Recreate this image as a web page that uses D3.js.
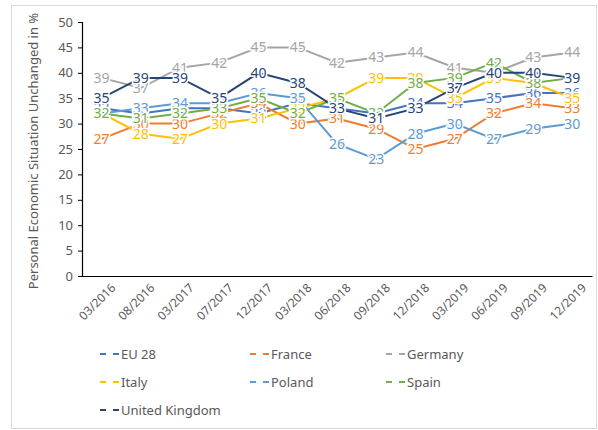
<!DOCTYPE html>
<html>
<head>
<meta charset="utf-8">
<script src="https://cdn.jsdelivr.net/npm/d3@7"></script>
<style>
  body { margin: 0; background: #fff; }
  svg text { font-family: "Noto Sans", "Open Sans", sans-serif; }
</style>
</head>
<body>
<div class="chart"></div>
<script>
// categories + series
var periods = ["03/2016","08/2016","03/2017","07/2017","12/2017","03/2018","06/2018","09/2018","12/2018","03/2019","06/2019","09/2019","12/2019"];
var yTicks = [0, 5, 10, 15, 20, 25, 30, 35, 40, 45, 50];
var seriesNames = ["EU 28", "France", "Germany", "Italy", "Poland", "Spain", "United Kingdom"];
var eu28    = [33, 32, 33, 33, 32, 34, 33, 32, 34, 34, 35, 36, 36];
var france  = [27, 30, 30, 32, 34, 30, 31, 29, 25, 27, 32, 34, 33];
var germany = [39, 37, 41, 42, 45, 45, 42, 43, 44, 41, 40, 43, 44];
var italy   = [32, 28, 27, 30, 31, 33, 35, 39, 39, 35, 39, 38, 35];
var poland  = [32, 33, 34, 34, 36, 35, 26, 23, 28, 30, 27, 29, 30];
var spain   = [32, 31, 32, 33, 35, 32, 35, 32, 38, 39, 42, 38, 39];
var uk      = [35, 39, 39, 35, 40, 38, 33, 31, 33, 37, 40, 40, 39];

var colors = ["#4472c4", "#ed7d31", "#a5a5a5", "#ffc000", "#5b9bd5", "#70ad47", "#264478"];
var allValues = [eu28, france, germany, italy, poland, spain, uk];

var series = seriesNames.map(function(n, i){
  return { name: n, color: colors[i], values: allValues[i] };
});

var width = 598, height = 430;
var margin = { left: 82, right: 6, top: 22, bottom: 154 };

var svg = d3.select(".chart").append("svg")
  .attr("width", width)
  .attr("height", height);

// outer frame
svg.append("rect")
  .attr("x", 11.5).attr("y", 5.5)
  .attr("width", 585).attr("height", 423)
  .attr("fill", "none")
  .attr("stroke", "#d9d9d9");

var x = d3.scaleBand()
  .domain(periods)
  .range([margin.left, width - margin.right]);

var y = d3.scaleLinear()
  .domain([0, 50])
  .range([height - margin.bottom, margin.top]);

// y axis
var yAxis = svg.append("g")
  .attr("transform", "translate(" + margin.left + ",0)")
  .call(d3.axisLeft(y).tickValues(yTicks).tickSize(4).tickPadding(5));
yAxis.select(".domain").attr("stroke", "#000").attr("stroke-width", 1.2);
yAxis.selectAll(".tick line").attr("stroke", "#000");
yAxis.selectAll("text").attr("font-size", 13).attr("fill", "#595959")
  .style("font-family", "'Noto Sans', sans-serif");

// x axis
var xAxis = svg.append("g")
  .attr("transform", "translate(0," + y(0) + ")")
  .call(d3.axisBottom(x).tickSize(0).tickPadding(8));
xAxis.select(".domain").attr("stroke", "#000").attr("stroke-width", 1.2);
xAxis.selectAll("text")
  .attr("font-size", 12).attr("fill", "#595959")
  .style("font-family", "'Noto Sans', sans-serif")
  .attr("text-anchor", "end")
  .attr("dy", "0.35em")
  .attr("transform", "translate(6,4) rotate(-45)");

// y title
svg.append("text")
  .attr("transform", "translate(38," + (y(25) + 2) + ") rotate(-90)")
  .attr("text-anchor", "middle")
  .attr("font-size", 13)
  .attr("fill", "#595959")
  .text("Personal Economic Situation Unchanged in %");

var line = d3.line()
  .x(function(d, i){ return x(periods[i]) + x.bandwidth() / 2; })
  .y(function(d){ return y(d); });

var lines = svg.append("g");
lines.selectAll("path")
  .data(series)
  .enter()
  .append("path")
  .attr("d", function(d){ return line(d.values); })
  .attr("fill", "none")
  .attr("stroke", function(d){ return d.color; })
  .attr("stroke-width", 2);

// data labels on top (white halo hides line under text)
var labels = svg.append("g");
series.forEach(function(s){
  labels.selectAll(null)
    .data(s.values)
    .enter()
    .append("text")
    .attr("x", function(d, i){ return x(periods[i]) + x.bandwidth() / 2; })
    .attr("y", function(d){ return y(d); })
    .attr("dy", "0.35em")
    .attr("text-anchor", "middle")
    .attr("font-size", 14)
    .attr("fill", s.color)
    .attr("stroke", "#fff")
    .attr("stroke-width", 3)
    .attr("paint-order", "stroke")
    .text(function(d){ return d; });
});

// legend
var legendCols = [100, 250, 386];
var legendRows = [354, 382, 410];
var legend = svg.append("g");
var item = legend.selectAll("g")
  .data(series)
  .enter()
  .append("g")
  .attr("transform", function(d, i){
    return "translate(" + legendCols[i % 3] + "," + legendRows[Math.floor(i / 3)] + ")";
  });
item.append("line")
  .attr("x1", 0).attr("x2", 19)
  .attr("y1", 0).attr("y2", 0)
  .attr("stroke", function(d){ return d.color; })
  .attr("stroke-width", 2)
  .attr("stroke-dasharray", "6,7");
item.append("text")
  .attr("x", 21)
  .attr("dy", "0.35em")
  .attr("font-size", 13)
  .attr("fill", "#595959")
  .text(function(d){ return d.name; });
</script>
</body>
</html>
